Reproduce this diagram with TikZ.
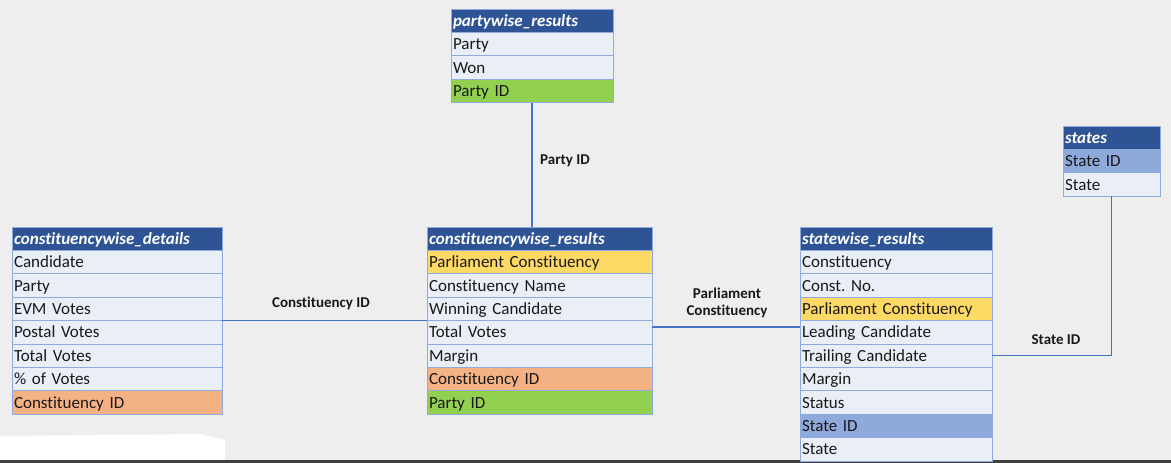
\documentclass[tikz,border=0pt]{standalone}
\usepackage{fontspec}
\setmainfont{Carlito}[Ligatures=NoCommon]
\usepackage{tikz}
\usetikzlibrary{positioning}
\frenchspacing
\definecolor{pagegray}{HTML}{EEEEEE}
\definecolor{headblue}{HTML}{2F5496}
\definecolor{rowfill}{HTML}{E9EEF7}
\definecolor{rowline}{HTML}{8FAADC}
\definecolor{keyyellow}{HTML}{FFD966}
\definecolor{keyorange}{HTML}{F4B183}
\definecolor{keygreen}{HTML}{92D050}
\definecolor{keyblue}{HTML}{8EA9DB}
\definecolor{linkblue}{HTML}{4472C4}
\tikzset{
  tcell/.style={draw=rowline, line width=0.9pt, outer sep=0pt, inner xsep=2pt,
    minimum height=23.4pt, text height=12pt, text depth=1pt, align=left,
    font=\fontsize{17}{19}\selectfont},
  thead/.style={tcell, fill=headblue, text=white, anchor=north west,
    font=\fontsize{17}{19}\selectfont\bfseries\itshape},
  trow/.style={tcell, fill=rowfill, text=black!90},
  pkyellow/.style={trow, fill=keyyellow},
  pkorange/.style={trow, fill=keyorange},
  pkgreen/.style={trow, fill=keygreen},
  pkblue/.style={trow, fill=keyblue},
  link/.style={draw=linkblue, line width=1.5pt},
  linklabel/.style={font=\fontsize{15}{17}\selectfont\bfseries, text=black!90, align=center}
}

\begin{document}
\begin{tikzpicture}[x=1pt,y=-1pt]
\useasboundingbox (0,0) rectangle (1171,463);
\fill[pagegray] (0,0) rectangle (1171,463);
\fill[white] (0,436) -- (200,434) -- (225,440) -- (225,460) -- (0,460) -- cycle;
\fill[black!75] (0,460) rectangle (1171,463);

% constituencywise_details
\begin{scope}[nodes={text width=206pt}]
\node[thead] (cdHead) at (12,227) {constituencywise\_details};
\node[trow, below=0pt of cdHead] (cdCandidate) {Candidate};
\node[trow, below=0pt of cdCandidate] (cdParty) {Party};
\node[trow, below=0pt of cdParty] (cdEVM) {EVM Votes};
\node[trow, below=0pt of cdEVM] (cdPostal) {Postal Votes};
\node[trow, below=0pt of cdPostal] (cdTotal) {Total Votes};
\node[trow, below=0pt of cdTotal] (cdPercent) {\% of Votes};
\node[pkorange, below=0pt of cdPercent] (cdConstID) {Constituency ID};
\end{scope}

% partywise_results
\begin{scope}[nodes={text width=158pt}]
\node[thead] (pwHead) at (451,9) {partywise\_results};
\node[trow, below=0pt of pwHead] (pwParty) {Party};
\node[trow, below=0pt of pwParty] (pwWon) {Won};
\node[pkgreen, below=0pt of pwWon] (pwPartyID) {Party ID};
\end{scope}

% constituencywise_results
\begin{scope}[nodes={text width=221pt}]
\node[thead] (crHead) at (427,227) {constituencywise\_results};
\node[pkyellow, below=0pt of crHead] (crParlConst) {Parliament Constituency};
\node[trow, below=0pt of crParlConst] (crName) {Constituency Name};
\node[trow, below=0pt of crName] (crWinner) {Winning Candidate};
\node[trow, below=0pt of crWinner] (crTotal) {Total Votes};
\node[trow, below=0pt of crTotal] (crMargin) {Margin};
\node[pkorange, below=0pt of crMargin] (crConstID) {Constituency ID};
\node[pkgreen, below=0pt of crConstID] (crPartyID) {Party ID};
\end{scope}

% statewise_results
\begin{scope}[nodes={text width=188pt}]
\node[thead] (swHead) at (800,227) {statewise\_results};
\node[trow, below=0pt of swHead] (swConst) {Constituency};
\node[trow, below=0pt of swConst] (swConstNo) {Const. No.};
\node[pkyellow, below=0pt of swConstNo] (swParlConst) {Parliament Constituency};
\node[trow, below=0pt of swParlConst] (swLeading) {Leading Candidate};
\node[trow, below=0pt of swLeading] (swTrailing) {Trailing Candidate};
\node[trow, below=0pt of swTrailing] (swMargin) {Margin};
\node[trow, below=0pt of swMargin] (swStatus) {Status};
\node[pkblue, below=0pt of swStatus] (swStateID) {State ID};
\node[trow, below=0pt of swStateID] (swState) {State};
\end{scope}

% states
\begin{scope}[nodes={text width=93pt}]
\node[thead] (stHead) at (1063,126) {states};
\node[pkblue, below=0pt of stHead] (stStateID) {State ID};
\node[trow, below=0pt of stStateID] (stState) {State};
\end{scope}

% links
\draw[link] (pwPartyID.south) -- (pwPartyID.south |- crHead.north);
\draw[link] (cdEVM.south east) -- (cdEVM.south east -| crHead.west);
\draw[link] ([yshift=-6.5pt]crTotal.north east) -- ([yshift=-6.5pt]crTotal.north east -| swHead.west);
\draw[link] (swTrailing.east) -| (stState.south);

\node[linklabel] (lblParty) at (565,161) {Party ID};
\node[linklabel] (lblConst) at (321,303) {Constituency ID};
\node[linklabel] (lblParl) at (727,303) {Parliament\\Constituency};
\node[linklabel] (lblState) at (1056,340) {State ID};
\end{tikzpicture}
\end{document}
